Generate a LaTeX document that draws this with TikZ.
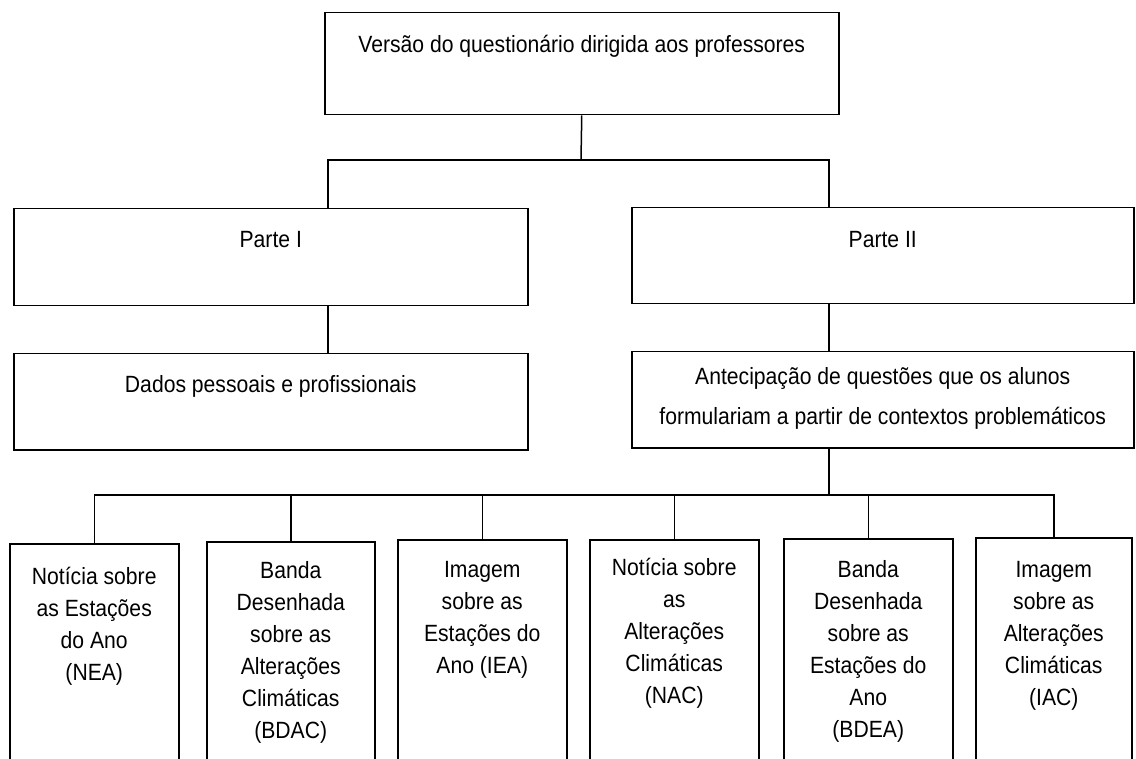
\documentclass[tikz,border=0pt]{standalone}
\usepackage{fontspec}
\setmainfont[FakeStretch=0.9]{Liberation Sans}
\begin{document}
\begin{tikzpicture}[x=1pt,y=-1pt,line width=1.5pt,
  box/.style={draw=black,rectangle,inner sep=0pt,line width=1.5pt,anchor=north west},
  lbl/.style={anchor=north,inner sep=0pt,align=center,text=black,
    font=\fontsize{23.5}{32}\selectfont},
  lbltwo/.style={lbl,font=\fontsize{23.5}{40}\selectfont},
  conn/.style={draw=black,line width=1.5pt}]
\useasboundingbox (0,0) rectangle (1136,759);
\clip (0,0) rectangle (1136,759);
\fill[white] (0,0) rectangle (1136,759);
% boxes
\node[box,minimum width=514pt,minimum height=102pt] (top) at (324,12) {};
\node[box,minimum width=514pt,minimum height=97pt] (p1) at (13,208) {};
\node[box,minimum width=502pt,minimum height=96pt] (p2) at (631,207) {};
\node[box,minimum width=514pt,minimum height=96pt] (dados) at (13,353) {};
\node[box,minimum width=502pt,minimum height=96pt] (antec) at (631,351) {};
\node[box,minimum width=169pt,minimum height=300pt] (c1) at (9,543) {};
\node[box,minimum width=168pt,minimum height=300pt] (c2) at (206,541) {};
\node[box,minimum width=169pt,minimum height=300pt] (c3) at (397,539) {};
\node[box,minimum width=169pt,minimum height=300pt] (c4) at (589,539) {};
\node[box,minimum width=169pt,minimum height=300pt] (c5) at (783,538) {};
\node[box,minimum width=156pt,minimum height=300pt] (c6) at (975,537) {};
% labels (strut 20pt: baseline = north + 20)
\node[lbl] (topt) at ([yshift=-20pt]top.north) {\rule{0pt}{20pt}Versão do questionário dirigida aos professores};
\node[lbl] (p1t) at ([yshift=-19pt]p1.north) {\rule{0pt}{20pt}Parte I};
\node[lbl] (p2t) at ([yshift=-20pt]p2.north) {\rule{0pt}{20pt}Parte II};
\node[lbl] (dadost) at ([yshift=-19pt]dados.north) {\rule{0pt}{20pt}Dados pessoais e profissionais};
\node[lbltwo] (antect) at ([yshift=-13pt]antec.north) {\rule{0pt}{20pt}Antecipação de questões que os alunos\\formulariam a partir de contextos problemáticos};
\node[lbl] (c1t) at ([yshift=-21pt]c1.north) {\rule{0pt}{20pt}Notícia sobre\\as Estações\\do Ano\\(NEA)};
\node[lbl] (c2t) at ([yshift=-17pt]c2.north) {\rule{0pt}{20pt}Banda\\Desenhada\\sobre as\\Alterações\\Climáticas\\(BDAC)};
\node[lbl] (c3t) at ([yshift=-18pt]c3.north) {\rule{0pt}{20pt}Imagem\\sobre as\\Estações do\\Ano (IEA)};
\node[lbl] (c4t) at ([yshift=-16pt]c4.north) {\rule{0pt}{20pt}Notícia sobre\\as\\Alterações\\Climáticas\\(NAC)};
\node[lbl] (c5t) at ([yshift=-19pt]c5.north) {\rule{0pt}{20pt}Banda\\Desenhada\\sobre as\\Estações do\\Ano\\(BDEA)};
\node[lbl] (c6t) at ([yshift=-20pt]c6.north) {\rule{0pt}{20pt}Imagem\\sobre as\\Alterações\\Climáticas\\(IAC)};
% junctions
\coordinate (j1) at (581,160);
\coordinate (k1) at (328,0);
\coordinate (k2) at (829,0);
\coordinate (j2) at (829,495);
% connectors
\draw[conn] (top.south) -- (j1);
\draw[conn] (p1.north -| k1) |- (j1) -| (p2.north -| k2);
\draw[conn] (p1.south -| k1) -- (dados.north -| k1);
\draw[conn] (p2.south -| k2) -- (antec.north -| k2);
\draw[conn] (antec.south -| k2) -- (j2);
\draw[conn] (c1.north) |- (j2) -| (c6.north);
\draw[conn] (c2.north) -- (c2.north |- j2);
\draw[conn] (c3.north) -- (c3.north |- j2);
\draw[conn] (c4.north) -- (c4.north |- j2);
\draw[conn] (c5.north) -- (c5.north |- j2);
\end{tikzpicture}
\end{document}
